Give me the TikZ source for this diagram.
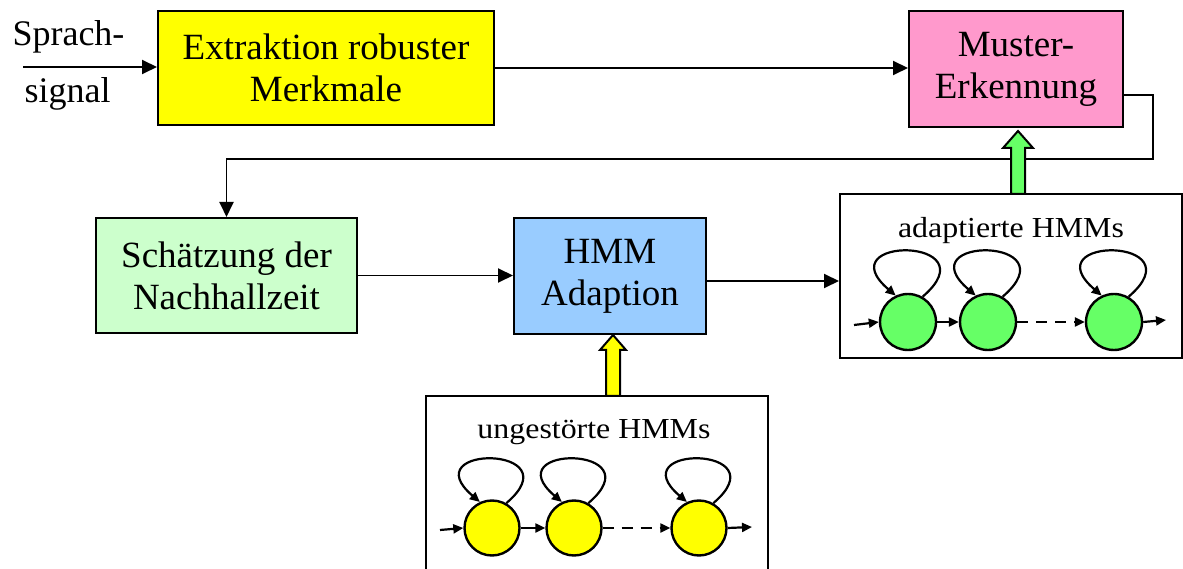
\documentclass[tikz,border=0pt]{standalone}
\usepackage{fontspec}
\setmainfont{Liberation Serif}
\usetikzlibrary{arrows.meta,calc}

\definecolor{extyellow}{HTML}{FFFF00}
\definecolor{muspink}{HTML}{FF99CC}
\definecolor{schgreen}{HTML}{CCFFCC}
\definecolor{hmmblue}{HTML}{99CCFF}
\definecolor{stgreen}{HTML}{66FF66}
\definecolor{styellow}{HTML}{FFFF00}

\tikzset{
  procbox/.style={draw=black, line width=2pt, align=center, inner sep=0pt,
    font=\fontsize{37}{42}\selectfont},
  framebox/.style={draw=black, line width=2pt, fill=white, inner sep=0pt},
  conn/.style={line width=1.9pt, -{Triangle[length=15pt,width=14pt]}},
  plainlabel/.style={font=\fontsize{36}{42}\selectfont, inner sep=0pt},
  hmmlabel/.style={font=\fontsize{29}{34}\selectfont, inner sep=0pt, anchor=base},
  state/.style={circle, draw=black, line width=2.4pt, inner sep=0pt},
  trans/.style={line width=2.2pt, -{Triangle[length=10pt,width=9pt]}},
  selfloop/.style={line width=2.2pt, -{Triangle[length=10pt,width=9pt]}},
  blockarrow/.style={draw=black, line width=2pt, line join=miter}
}

\begin{document}
\begin{tikzpicture}[x=1pt,y=1pt]
\useasboundingbox (0,0) rectangle (1183,568);

% processing blocks
\node[procbox, fill=extyellow, minimum width=336pt, minimum height=114pt] (ext) at (326,500) {Extraktion robuster\\Merkmale};
\node[procbox, fill=muspink, minimum width=214pt, minimum height=116pt] (mus) at (1016,499) {Muster-\\Erkennung};
\node[procbox, fill=schgreen, minimum width=261pt, minimum height=115pt] (sch) at (226.5,292.5) {Schätzung der\\Nachhallzeit};
\node[procbox, fill=hmmblue, minimum width=192pt, minimum height=116pt] (hmm) at (610,292) {HMM\\Adaption};

% model frames
\node[framebox, minimum width=342pt, minimum height=164pt] (adbox) at (1011,292) {};
\node[framebox, minimum width=342pt, minimum height=206pt] (unbox) at (597,69) {};

% input label
\node[plainlabel, anchor=base] (sp) at (68.5,522) {Sprach-};
\node[plainlabel, anchor=base] (sg) at (67.5,465) {signal};
\coordinate (in) at (23,501);

% signal flow
\draw[conn] (in) -- (in -| ext.west);
\draw[conn] (ext.east) -- (ext.east -| mus.west);
\coordinate (fbr) at (1153,409);
\draw[conn, line join=miter] ([yshift=-26pt]mus.east) -| (fbr) -| (sch.north);
\draw[conn] (sch.east) -- (sch.east -| hmm.west);
\draw[conn] ([yshift=-5pt]hmm.east) -- ([yshift=-5pt]hmm.east -| adbox.west);

% block arrows feeding the models
\draw[blockarrow, fill=stgreen]
  (1011,374) -- (1011,420) -- (1003,420) -- (1018,437) -- (1033,420) -- (1025,420) -- (1025,374) -- cycle;
\draw[blockarrow, fill=styellow]
  (606,172) -- (606,218) -- (600,218) -- (613,233) -- (626,218) -- (620,218) -- (620,172) -- cycle;

% adapted HMM chain
\node[hmmlabel] (adlab) at (1011,330) {\scalebox{1.1}[1]{adaptierte HMMs}};
\node[state, fill=stgreen, minimum size=56pt] (a1) at (908,246) {};
\node[state, fill=stgreen, minimum size=56pt] (a2) at (988,246) {};
\node[state, fill=stgreen, minimum size=56pt] (a3) at (1114,246) {};
\coordinate (ain) at (854,243);
\coordinate (aout) at (1166,248);
\draw[trans] (ain) -- (a1.west);
\draw[trans] (a1.east) -- (a2.west);
\draw[trans, dash pattern=on 11pt off 8pt] (a2.east) -- (a3.west);
\draw[trans] (a3.east) -- (aout);
\foreach \s in {a1,a2,a3}
  \draw[selfloop] (\s.60) .. controls +(70,60) and +(-70,60) .. (\s.115);

% unadapted HMM chain
\node[hmmlabel] (unlab) at (594,130) {\scalebox{1.1}[1]{ungestörte HMMs}};
\node[state, fill=styellow, minimum size=55pt] (u1) at (492,40) {};
\node[state, fill=styellow, minimum size=55pt] (u2) at (574,40) {};
\node[state, fill=styellow, minimum size=55pt] (u3) at (699,40) {};
\coordinate (uin) at (440,38);
\coordinate (uout) at (752,41);
\draw[trans] (uin) -- (u1.west);
\draw[trans] (u1.east) -- (u2.west);
\draw[trans, dash pattern=on 11pt off 8pt] (u2.east) -- (u3.west);
\draw[trans] (u3.east) -- (uout);
\foreach \s in {u1,u2,u3}
  \draw[selfloop] (\s.60) .. controls +(68,58) and +(-68,58) .. (\s.115);
\end{tikzpicture}
\end{document}
